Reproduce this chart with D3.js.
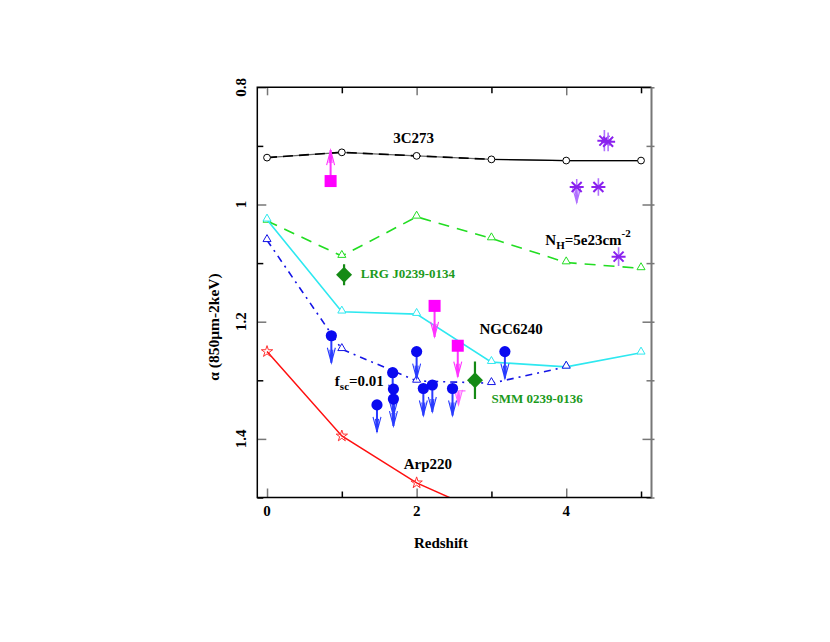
<!DOCTYPE html>
<html>
<head>
<meta charset="utf-8">
<script src="https://cdn.jsdelivr.net/npm/d3@7/dist/d3.min.js"></script>
<style>
  html, body { margin: 0; padding: 0; background: #fff; }
  text { font-family: "Liberation Serif", "DejaVu Serif", serif; font-weight: bold; }
</style>
</head>
<body>
<div id="app"></div>
<script>
// model tracks (alpha vs redshift)
const redshifts = [0, 1, 2, 3, 4, 5];
const alpha3C273 = [0.920, 0.911, 0.917, 0.923, 0.925, 0.925];
const alphaNH = [1.028, 1.088, 1.021, 1.058, 1.099, 1.109];
const alphaNGC6240 = [1.026, 1.183, 1.187, 1.269, 1.277, 1.253];
const fscRedshifts = [0, 1, 2, 3, 4];
const alphaFsc = [1.061, 1.247, 1.301, 1.305, 1.277];
const arpRedshifts = [0, 1, 2, 3];
const alphaArp220 = [1.251, 1.395, 1.475, 1.532];

// blue upper limits
const limitZ = [0.86, 1.47, 1.68, 1.69, 1.69, 2.00, 2.09, 2.21, 2.48, 3.18];
const limitAlpha = [1.224, 1.342, 1.287, 1.315, 1.332, 1.251, 1.314, 1.308, 1.314, 1.251];

// magenta squares
const squareZ = [0.85, 2.24, 2.55];
const squareAlpha = [0.960, 1.173, 1.241];
const squareDir = ["up", "down", "down"];

// purple asterisks
const starZ = [4.51, 4.56, 4.14, 4.43, 4.70];
const starAlpha = [0.891, 0.893, 0.970, 0.970, 1.089];
const starErr = [0.018, 0.016, 0, 0.015, 0.016];
const starLimit = [false, false, true, false, false];

// green diamonds (LRG J0239-0134, SMM 0239-0136)
const diamondZ = [1.03, 2.78];
const diamondAlpha = [1.120, 1.300];
const diamondErr = [0.018, 0.032];

const xTicks = [0, 1, 2, 3, 4, 5];
const xLabels = [0, 2, 4];
const yTicks = [0.8, 0.9, 1.0, 1.1, 1.2, 1.3, 1.4, 1.5];
const yLabels = [0.8, 1.0, 1.2, 1.4];

const W = 830, H = 642;
const pLeft = 257.3, pRight = 651.5, pTop = 87.3, pBottom = 497.5;

const svg = d3.select("#app").append("svg")
  .attr("width", W).attr("height", H)
  .attr("viewBox", `0 0 ${W} ${H}`);

const x = d3.scaleLinear().domain([-0.13, 5.14]).range([pLeft, pRight]);
const y = d3.scaleLinear().domain([0.8, 1.5]).range([pTop, pBottom]);

svg.append("clipPath").attr("id", "clip")
  .append("rect").attr("x", pLeft).attr("y", pTop)
  .attr("width", pRight - pLeft).attr("height", pBottom - pTop);

const plot = svg.append("g").attr("clip-path", "url(#clip)");

// ---- ticks (inward, major gray / minor black)
const isMajorX = v => xLabels.includes(v);
const isMajorY = v => yLabels.some(l => Math.abs(l - v) < 1e-6);

const axB = svg.append("g").attr("transform", `translate(0,${pBottom})`)
  .call(d3.axisBottom(x).tickValues(xTicks).tickSize(0).tickFormat(""));
const axT = svg.append("g").attr("transform", `translate(0,${pTop})`)
  .call(d3.axisTop(x).tickValues(xTicks).tickSize(0).tickFormat(""));
const axL = svg.append("g").attr("transform", `translate(${pLeft},0)`)
  .call(d3.axisLeft(y).tickValues(yTicks).tickSize(0).tickFormat(""));
const axR = svg.append("g").attr("transform", `translate(${pRight},0)`)
  .call(d3.axisRight(y).tickValues(yTicks).tickSize(0).tickFormat(""));
[axB, axT, axL, axR].forEach(a => a.select(".domain").remove());

axB.selectAll(".tick line").attr("y2", d => isMajorX(d) ? -9 : -6)
  .attr("stroke", d => isMajorX(d) ? "#777" : "#000").attr("stroke-width", 1.5);
axT.selectAll(".tick line").attr("y2", d => isMajorX(d) ? 8 : 6)
  .attr("stroke", d => isMajorX(d) ? "#777" : "#000").attr("stroke-width", 1.5);
axL.selectAll(".tick line").attr("x2", d => isMajorY(d) ? 9 : 6)
  .attr("stroke", d => isMajorY(d) ? "#777" : "#000").attr("stroke-width", 1.5);
axR.selectAll(".tick line").attr("x1", 3).attr("x2", d => isMajorY(d) ? -9 : -5)
  .attr("stroke", "#777").attr("stroke-width", 1.5);

// frame
svg.append("path").attr("fill", "none").attr("stroke", "#000").attr("stroke-width", 1.5)
  .attr("d", `M${pRight},${pTop}H${pLeft}V${pBottom}H${pRight}`);
svg.append("line").attr("x1", pRight).attr("x2", pRight).attr("y1", pTop).attr("y2", pBottom)
  .attr("stroke", "#777").attr("stroke-width", 2);

// tick labels
xLabels.forEach(v => {
  svg.append("text").attr("x", x(v)).attr("y", 516).attr("text-anchor", "middle")
    .attr("font-size", 15).text(v);
});
yLabels.forEach(v => {
  svg.append("text").attr("transform", `translate(246,${y(v)}) rotate(-90)`)
    .attr("text-anchor", "middle").attr("font-size", 15)
    .text(v === 1 ? "1" : d3.format(".1f")(v));
});

// axis titles
svg.append("text").attr("x", 441).attr("y", 548).attr("text-anchor", "middle")
  .attr("font-size", 15).text("Redshift");
svg.append("text").attr("transform", `translate(218.5,327) rotate(-90)`)
  .attr("text-anchor", "middle").attr("font-size", 15.5).text("α (850μm-2keV)");

// ---- lines
const line = d3.line().x(d => x(d[0])).y(d => y(d[1]));
const zip = (a, b) => a.map((v, i) => [v, b[i]]);

function triangles(pts, color) {
  plot.selectAll(null).data(pts).enter().append("path")
    .attr("d", d3.symbol(d3.symbolTriangle, 28)())
    .attr("transform", d => `translate(${x(d[0])},${y(d[1]) - 1})`)
    .attr("fill", "#fff").attr("stroke", color).attr("stroke-width", 1);
}

// 3C273
const c3 = zip(redshifts, alpha3C273);
plot.append("path").attr("d", line(c3)).attr("fill", "none")
  .attr("stroke", "#666").attr("stroke-width", 1.3);
plot.append("path").attr("d", line(c3.slice(0, 4))).attr("fill", "none")
  .attr("stroke", "#000").attr("stroke-width", 1.6).attr("stroke-dasharray", "10,6");
plot.append("path").attr("d", line(c3.slice(3))).attr("fill", "none")
  .attr("stroke", "#000").attr("stroke-width", 1.2);
plot.selectAll(null).data(c3).enter().append("circle")
  .attr("cx", d => x(d[0])).attr("cy", d => y(d[1])).attr("r", 3.4)
  .attr("fill", "#fff").attr("stroke", "#000").attr("stroke-width", 1);

// NH = 5e23 (green dashed)
const nh = zip(redshifts, alphaNH);
plot.append("path").attr("d", line(nh)).attr("fill", "none")
  .attr("stroke", "#22dd22").attr("stroke-width", 1.6).attr("stroke-dasharray", "11,8");
triangles(nh, "#22dd22");

// NGC6240 (cyan)
const ngc = zip(redshifts, alphaNGC6240);
plot.append("path").attr("d", line(ngc)).attr("fill", "none")
  .attr("stroke", "#2ee8f0").attr("stroke-width", 1.6);
triangles(ngc, "#2ee8f0");

// fsc = 0.01 (blue dash-dot)
const fsc = zip(fscRedshifts, alphaFsc);
plot.append("path").attr("d", line(fsc)).attr("fill", "none")
  .attr("stroke", "#1515e6").attr("stroke-width", 1.6).attr("stroke-dasharray", "7,5,2,5");
triangles(fsc, "#1515e6");

// Arp220 (red)
const arp = zip(arpRedshifts, alphaArp220);
plot.append("path").attr("d", line(arp)).attr("fill", "none")
  .attr("stroke", "#ff1010").attr("stroke-width", 1.5);
plot.selectAll(null).data(arp).enter().append("path")
  .attr("d", d3.symbol(d3.symbolStar, 40)())
  .attr("transform", d => `translate(${x(d[0])},${y(d[1])})`)
  .attr("fill", "none").attr("stroke", "#ff3030").attr("stroke-width", 1);

// ---- arrows helper (pixel lengths)
function arrow(g, px, py, len, dir, color, width) {
  const s = dir === "down" ? 1 : -1;
  const tip = py + s * len;
  g.append("line").attr("x1", px).attr("x2", px).attr("y1", py).attr("y2", tip)
    .attr("stroke", color).attr("stroke-width", width);
  g.append("path")
    .attr("d", `M${px - 4},${tip - s * 15}L${px},${tip}L${px + 4},${tip - s * 15}`
      + `M${px - 1.5},${tip - s * 13}L${px},${tip}L${px + 1.5},${tip - s * 13}`)
    .attr("fill", "none").attr("stroke", color).attr("stroke-width", 1.1);
}

// magenta squares with arrows
squareZ.forEach((z, i) => {
  const px = x(z), py = y(squareAlpha[i]);
  if (squareDir[i] === "up") {
    arrow(plot, px, py - 5, 26, "up", "#ff33ff", 2);
  } else {
    arrow(plot, px, py + 5, 26, "down", "#ff33ff", 2);
  }
  plot.append("rect").attr("x", px - 6).attr("y", py - 6).attr("width", 12).attr("height", 12)
    .attr("fill", "#ff00ff");
});
// small pink limit near SMM
{
  const px = x(2.56), py = y(1.318);
  plot.append("line").attr("x1", px).attr("x2", px + 7).attr("y1", py).attr("y2", py)
    .attr("stroke", "#ff66ff").attr("stroke-width", 1.2);
  arrow(plot, px, py, 14, "down", "#ff66ff", 1.2);
}

// blue circles with downward arrows
limitZ.forEach((z, i) => {
  const px = x(z), py = y(limitAlpha[i]);
  arrow(plot, px, py, 27, "down", "#2a3cff", 2);
  plot.append("circle").attr("cx", px).attr("cy", py).attr("r", 5.6).attr("fill", "#0a0af0");
});

// green diamonds with error bars
diamondZ.forEach((z, i) => {
  const px = x(z), py = y(diamondAlpha[i]);
  plot.append("line").attr("x1", px).attr("x2", px)
    .attr("y1", y(diamondAlpha[i] - diamondErr[i])).attr("y2", y(diamondAlpha[i] + diamondErr[i]))
    .attr("stroke", "#158a15").attr("stroke-width", 2.2);
  plot.append("path").attr("d", `M${px},${py - 8}L${px + 8},${py}L${px},${py + 8}L${px - 8},${py}Z`)
    .attr("fill", "#158a15");
});

// purple asterisks
starZ.forEach((z, i) => {
  const px = x(z), py = y(starAlpha[i]);
  if (starLimit[i]) {
    arrow(plot, px, py - 8, 24, "down", "#b070ff", 1.5);
  } else {
    plot.append("line").attr("x1", px).attr("x2", px)
      .attr("y1", y(starAlpha[i] - starErr[i])).attr("y2", y(starAlpha[i] + starErr[i]))
      .attr("stroke", "#b070ff").attr("stroke-width", 1.6);
  }
  const r = 7, d = 5;
  plot.append("path")
    .attr("d", `M${px - r},${py}H${px + r}M${px - d},${py - d}L${px + d},${py + d}M${px - d},${py + d}L${px + d},${py - d}`)
    .attr("fill", "none").attr("stroke", "#8a22ee").attr("stroke-width", 2);
});

// ---- annotations
const ann = svg.append("g");
ann.append("text").attr("x", x(1.96)).attr("y", y(0.895)).attr("text-anchor", "middle")
  .attr("font-size", 15).text("3C273");
const nhText = ann.append("text").attr("x", x(3.72)).attr("y", y(1.069)).attr("font-size", 15);
nhText.append("tspan").text("N");
nhText.append("tspan").attr("font-size", 11).attr("dy", 4).text("H");
nhText.append("tspan").attr("dy", -4).text("=5e23cm");
nhText.append("tspan").attr("font-size", 11).attr("dy", -8).text("-2");
ann.append("text").attr("x", x(1.253)).attr("y", y(1.126)).attr("font-size", 13)
  .attr("fill", "#1c9a1c").text("LRG J0239-0134");
ann.append("text").attr("x", x(2.84)).attr("y", y(1.221)).attr("font-size", 15).text("NGC6240");
const fText = ann.append("text").attr("x", x(0.907)).attr("y", y(1.31)).attr("font-size", 15);
fText.append("tspan").text("f");
fText.append("tspan").attr("font-size", 11).attr("dy", 4).text("sc");
fText.append("tspan").attr("dy", -4).text("=0.01");
ann.append("text").attr("x", x(3.0)).attr("y", y(1.338)).attr("font-size", 13)
  .attr("fill", "#1c9a1c").text("SMM 0239-0136");
ann.append("text").attr("x", x(1.827)).attr("y", y(1.452)).attr("font-size", 15).text("Arp220");
</script>
</body>
</html>
